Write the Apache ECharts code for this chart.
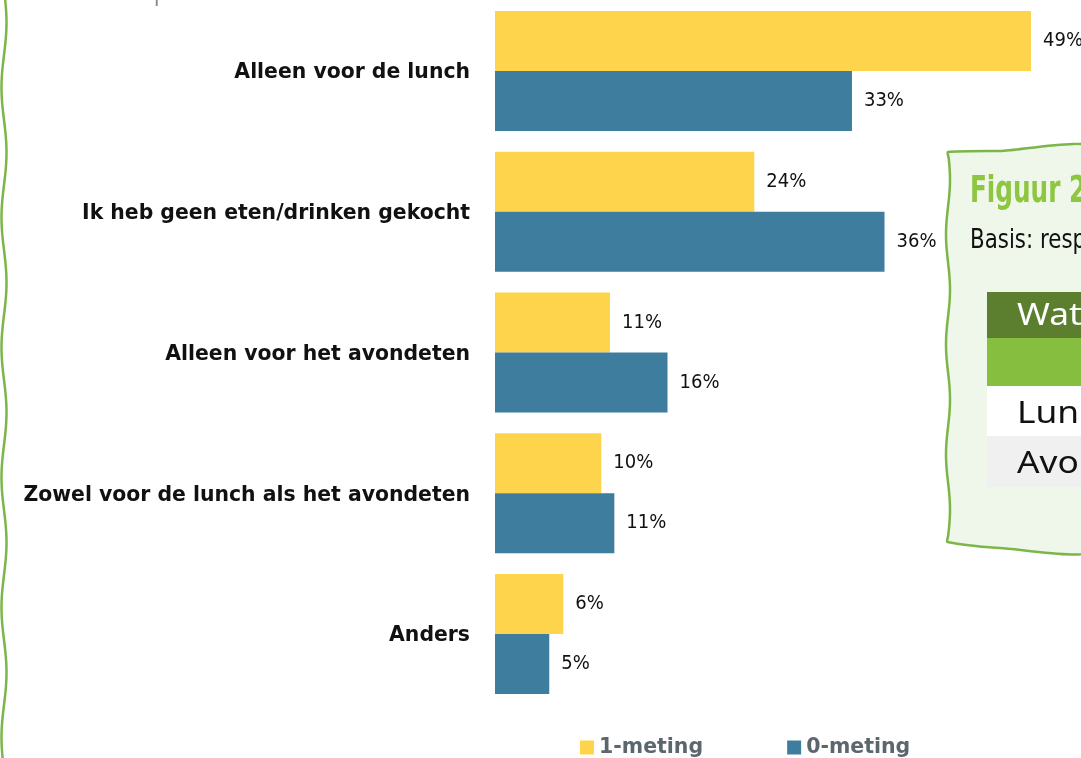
<!DOCTYPE html>
<html>
<head>
<meta charset="utf-8">
<script src="https://cdn.jsdelivr.net/npm/echarts@6/dist/echarts.min.js"></script>
<style>
  html, body { margin: 0; padding: 0; background: #fff; }
  #chart { width: 1081px; height: 758px; }
</style>
</head>
<body>
<div id="chart"></div>
<script>
const categories = [
  'Alleen voor de lunch',
  'Ik heb geen eten/drinken gekocht',
  'Alleen voor het avondeten',
  'Zowel voor de lunch als het avondeten',
  'Anders'
]
const meting1 = [49.4, 23.9, 10.6, 9.8, 6.3]
const meting0 = [32.9, 35.9, 15.9, 11.0, 5.0]
const seriesNames = ['1-meting', '0-meting']

const yellow = '#fed44c'
const blue = '#3f7d9e'
const green = '#7ab648'
const condensed = '"DejaVu Sans Condensed", "DejaVu Sans"'

// wiggly hand drawn edge, only decoration
function wavy(x, y0, y1, amp, len) {
  const pts = []
  for (let y = y0; y <= y1; y += 6) {
    pts.push([x + amp * Math.sin((y - y0) / len * Math.PI * 2), y])
  }
  return pts
}

const leftEdge = wavy(4, -10, 770, 2.5, 130)
const panelLeft = wavy(948, 152, 546, 2, 110)
const panel = [[1100, 151], [1000, 151]].concat(panelLeft).concat([[1000, 548], [1100, 547]])

const chart = echarts.init(document.getElementById('chart'))

const barLabel = {
  show: true,
  position: 'right',
  distance: 12,
  formatter: p => Math.round(p.value) + '%',
  fontFamily: condensed,
  fontSize: 20,
  color: '#111'
}

chart.setOption({
  animation: false,
  grid: { left: 495, top: 0.6, width: 542.5, height: 703.8 },
  legend: {
    data: seriesNames,
    left: 575,
    top: 732,
    itemWidth: 14,
    itemHeight: 14,
    itemGap: 84,
    icon: 'rect',
    textStyle: { color: '#5c676d', fontFamily: 'DejaVu Sans', fontWeight: 'bold', fontSize: 20.5 }
  },
  xAxis: { type: 'value', min: 0, max: 50, show: false },
  yAxis: {
    type: 'category',
    data: categories,
    inverse: true,
    axisLine: { show: false },
    axisTick: { show: false },
    axisLabel: {
      margin: 25,
      formatter: v => '{c|' + v + '}',
      rich: {
        c: {
          padding: [4, 0, 0, 0],
          color: '#111',
          fontFamily: 'DejaVu Sans',
          fontWeight: 'bold',
          fontSize: 20.4
        }
      }
    }
  },
  series: [
    {
      name: seriesNames[0],
      type: 'bar',
      data: meting1,
      barWidth: 60,
      barGap: '0%',
      itemStyle: { color: yellow },
      label: barLabel
    },
    {
      name: seriesNames[1],
      type: 'bar',
      data: meting0,
      barWidth: 60,
      barGap: '0%',
      itemStyle: { color: blue },
      label: barLabel
    }
  ],
  graphic: [
    {
      type: 'text', x: 15, y: -7, scaleX: 0.83,
      style: { text: 'Basis: alle respondenten', font: '27px ' + condensed, fill: '#8a8a8a', verticalAlign: 'middle' }
    },
    {
      type: 'polyline', shape: { points: leftEdge, smooth: 0.4 },
      style: { stroke: green, lineWidth: 2.5, fill: null }
    },
    {
      type: 'polygon', shape: { points: panel, smooth: 0.2 },
      style: { fill: '#eff6ea', stroke: green, lineWidth: 2.5 }
    },
    {
      type: 'text', x: 970, y: 192, scaleX: 0.65,
      style: { text: 'Figuur 2', font: 'bold 38px "DejaVu Sans"', fill: '#8dc63f', verticalAlign: 'middle' }
    },
    {
      type: 'text', x: 970, y: 241, scaleX: 0.88,
      style: { text: 'Basis: respondenten', font: '27px ' + condensed, fill: '#111', verticalAlign: 'middle' }
    },
    { type: 'rect', shape: { x: 987, y: 292, width: 120, height: 46 }, style: { fill: '#5b7f2f' } },
    { type: 'rect', shape: { x: 987, y: 338, width: 120, height: 48 }, style: { fill: '#86bf3f' } },
    { type: 'rect', shape: { x: 987, y: 386, width: 120, height: 50 }, style: { fill: '#ffffff' } },
    { type: 'rect', shape: { x: 987, y: 436, width: 120, height: 51 }, style: { fill: '#f0f0f0' } },
    {
      type: 'text', x: 1017, y: 316, scaleX: 1.14,
      style: { text: 'Wat', font: '31px "Noto Sans"', fill: '#fff', verticalAlign: 'middle' }
    },
    {
      type: 'text', x: 1017, y: 414, scaleX: 1.14,
      style: { text: 'Lunch', font: '31px "Noto Sans"', fill: '#111', verticalAlign: 'middle' }
    },
    {
      type: 'text', x: 1017, y: 464, scaleX: 1.14,
      style: { text: 'Avondeten', font: '31px "Noto Sans"', fill: '#111', verticalAlign: 'middle' }
    }
  ]
})
</script>
</body>
</html>
